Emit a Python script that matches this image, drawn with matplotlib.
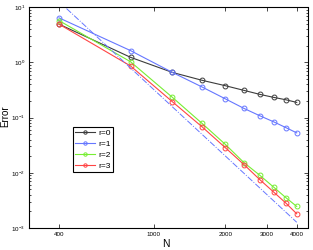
import numpy as np
import matplotlib
matplotlib.use("Agg")
import matplotlib.pyplot as plt
from matplotlib.ticker import LogLocator, NullFormatter

plt.rcParams["font.family"] = ["Liberation Sans", "DejaVu Sans"]

# Data
N = [400, 800, 1200, 1600, 2000, 2400, 2800, 3200, 3600, 4000]
err_r0 = [4.95, 1.24, 0.66, 0.475, 0.38, 0.312, 0.264, 0.233, 0.211, 0.189]
err_r1 = [6.44, 1.64, 0.66, 0.359, 0.22, 0.147, 0.108, 0.084, 0.066, 0.053]
err_r2 = [5.75, 1.03, 0.233, 0.0785, 0.033, 0.0153, 0.009, 0.0055, 0.00355, 0.00246]
err_r3 = [4.95, 0.864, 0.194, 0.068, 0.0287, 0.0141, 0.0075, 0.00448, 0.00283, 0.00181]
# reference slope line (order 4)
ref_N = [400, 4000]
ref_err = [12.7, 0.00127]

labels = ["r=0", "r=1", "r=2", "r=3"]
colors = ["#3c3c3c", "#6677ff", "#77ee33", "#ff4444"]

fig = plt.figure(figsize=(3.13, 2.5), dpi=100)
ax = fig.add_axes([29.3/313, 1 - 228/250, (307.5-29.3)/313, (228-7.3)/250])

for y, lab, c in zip([err_r0, err_r1, err_r2, err_r3], labels, colors):
    ax.plot(N, y, "-o", color=c, lw=0.8, ms=3.5, mfc="none", mew=0.7, label=lab)
ax.plot(ref_N, ref_err, "-.", color="#6677ff", lw=0.7)

ax.set_xscale("log")
ax.set_yscale("log")
ax.set_xlim(300, 4440)
ax.set_ylim(1e-3, 1e1)

ax.set_xticks([400, 1000, 2000, 3000, 4000])
ax.set_xticklabels(["400", "1000", "2000", "3000", "4000"])
ax.xaxis.set_minor_locator(plt.NullLocator())
ax.yaxis.set_major_locator(LogLocator(base=10, numticks=10))
ax.yaxis.set_minor_locator(LogLocator(base=10, subs=np.arange(2, 10), numticks=20))
ax.yaxis.set_minor_formatter(NullFormatter())

ax.tick_params(which="both", direction="in", top=True, right=True, labelsize=4.5, width=0.5)
ax.tick_params(which="major", length=3, pad=3)
ax.tick_params(which="minor", length=1.5)
for s in ax.spines.values():
    s.set_linewidth(0.8)

ax.set_xlabel("N", fontsize=7.5)
ax.xaxis.set_label_coords(0.49, -0.048)
ax.set_ylabel("Error", fontsize=7)
ax.yaxis.set_label_coords(-0.068, 0.505)

leg = ax.legend(loc="upper left", bbox_to_anchor=(0.157, 0.458), borderaxespad=0,
                fontsize=6, fancybox=False, edgecolor="black", framealpha=1,
                handlelength=2.3, handletextpad=0.4, borderpad=0.3,
                labelspacing=0.35, markerscale=0.7)
leg.get_frame().set_linewidth(0.8)

fig.savefig("out.png", dpi=100)
